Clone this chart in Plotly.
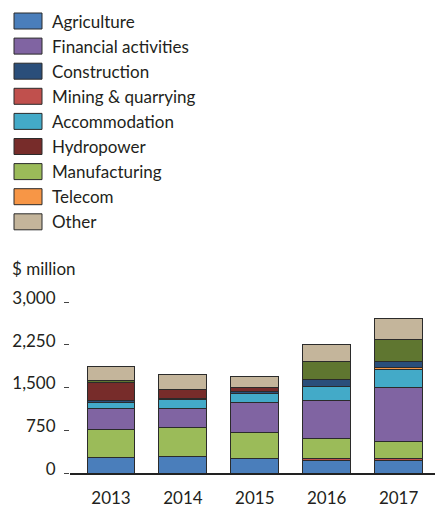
import plotly.graph_objects as go

years = ["2013", "2014", "2015", "2016", "2017"]

# Stack order bottom -> top
agriculture = [280, 282, 247, 217, 217]
mining = [0, 0, 0, 35, 35]
manufacturing = [490, 516, 463, 353, 294]
financial = [365, 335, 523, 663, 951]
accommodation = [95, 164, 164, 258, 323]
telecom = [0, 0, 0, 0, 35]
construction = [35, 18, 35, 106, 100]
hydropower = [330, 153, 65, 0, 0]
unlabelled = [25, 0, 0, 323, 393]
other = [240, 264, 199, 299, 364]

y_ticks = [0, 750, 1500, 2250, 3000]
y_tick_labels = ["0", "750", "1,500", "2,250", "3,000"]

series = [
    ("Agriculture", agriculture, "#4a7ebb"),
    ("Mining & quarrying", mining, "#c0504d"),
    ("Manufacturing", manufacturing, "#9bbb59"),
    ("Financial activities", financial, "#8064a2"),
    ("Accommodation", accommodation, "#43aac8"),
    ("Telecom", telecom, "#f79646"),
    ("Construction", construction, "#2a4e7a"),
    ("Hydropower", hydropower, "#772c2a"),
    ("Unlabelled", unlabelled, "#5f7630"),
    ("Other", other, "#c4b59b"),
]
colors = {n: c for n, _, c in series}

legend_order = ["Agriculture", "Financial activities", "Construction",
                "Mining & quarrying", "Accommodation", "Hydropower",
                "Manufacturing", "Telecom", "Other"]

FONT = "Lato, 'Open Sans', sans-serif"
TXT = "#231f20"

# page body has an 8px margin: size the figure to fit the window
OFF = 8
W, H = 443 - OFF, 507 - OFF
L, R, T, B = 70 - OFF, 6, 302 - OFF, 34
PW, PH = W - L - R, H - T - B


def px_x(x):
    return (x - OFF - L) / PW


def px_y(y):
    return (H - B - (y - OFF)) / PH


fig = go.Figure()
for name, vals, col in series:
    fig.add_trace(go.Bar(
        x=years, y=vals, name=name, showlegend=False,
        marker=dict(color=col, line=dict(color="#2b2b2b", width=1)),
    ))

shapes = []
annotations = []
for i, name in enumerate(legend_order):
    yc = 21 + i * 25.1
    shapes.append(dict(
        type="rect", xref="paper", yref="paper",
        x0=px_x(14), x1=px_x(42),
        y0=px_y(yc + 8), y1=px_y(yc - 8),
        fillcolor=colors[name], line=dict(color="#2b2b2b", width=1),
    ))
    annotations.append(dict(
        text=name, xref="paper", yref="paper",
        x=px_x(50), y=px_y(yc),
        xanchor="left", yanchor="middle", showarrow=False,
        font=dict(family=FONT, size=17, color=TXT),
    ))

annotations.append(dict(
    text="$ million", xref="paper", yref="paper",
    x=px_x(10), y=px_y(268),
    xanchor="left", yanchor="middle", showarrow=False,
    font=dict(family=FONT, size=17, color=TXT),
))

fig.update_layout(
    barmode="stack",
    bargap=1 / 3,
    width=W, height=H,
    margin=dict(l=L, r=R, t=T, b=B, autoexpand=False),
    paper_bgcolor="white", plot_bgcolor="white",
    shapes=shapes, annotations=annotations,
    font=dict(family=FONT, size=17, color=TXT),
    xaxis=dict(
        type="category", range=[-0.57, 4.534], automargin=False,
        showline=True, linecolor="#222", linewidth=1.5,
        ticks="outside", ticklen=9, tickcolor="rgba(0,0,0,0)",
        showgrid=False, tickfont=dict(family=FONT, size=17, color=TXT),
    ),
    yaxis=dict(
        range=[0, 3000], tickvals=y_ticks, ticktext=y_tick_labels,
        automargin=False,
        showline=False, showgrid=False, zeroline=False,
        ticks="outside", ticklen=5, tickcolor="#444", tickwidth=1,
        mirror="ticks", ticklabelshift=-4, ticklabelstandoff=5,
        tickfont=dict(family=FONT, size=17, color=TXT),
    ),
)

fig.write_html("out.html")
